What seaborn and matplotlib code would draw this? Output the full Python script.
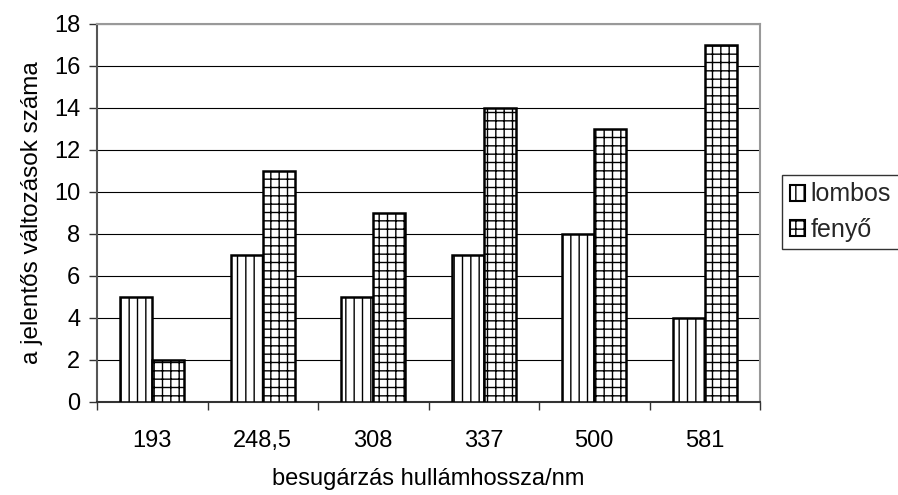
import matplotlib
matplotlib.use("Agg")
import matplotlib.pyplot as plt
import seaborn as sns
import pandas as pd
from matplotlib.patches import Patch

categories = ["193", "248,5", "308", "337", "500", "581"]
lombos = [5, 7, 5, 7, 8, 4]
fenyo = [2, 11, 9, 14, 13, 17]
series_names = ["lombos", "fenyő"]
yticks = [0, 2, 4, 6, 8, 10, 12, 14, 16, 18]

sns.set_theme(style="white")
plt.rcParams["font.family"] = ["Liberation Sans", "DejaVu Sans"]
plt.rcParams["hatch.color"] = "black"
plt.rcParams["hatch.linewidth"] = 1.0

df = pd.DataFrame({
    "cat": categories * 2,
    "val": lombos + fenyo,
    "series": [series_names[0]] * len(categories) + [series_names[1]] * len(categories),
})

fig = plt.figure(figsize=(8.98, 4.95), dpi=100)
ax = fig.add_axes([97 / 898, 1 - 402 / 495, (760 - 97) / 898, (402 - 24) / 495])

sns.barplot(data=df, x="cat", y="val", hue="series", order=categories,
            hue_order=series_names, palette=["white", "white"],
            edgecolor="black", linewidth=1.8, width=0.58, saturation=1,
            legend=False, ax=ax, zorder=3)

hatches = ["||", "++"]
for cont, h in zip(ax.containers, hatches):
    for bar in cont:
        bar.set_hatch(h)
        bar.set_zorder(3)

ax.set_ylim(0, 18)
ax.set_xlim(-0.5, len(categories) - 0.5)
ax.set_yticks(yticks)
ax.yaxis.grid(True, color="black", linewidth=0.8, zorder=0)
ax.set_axisbelow(True)

for side in ["top", "right"]:
    ax.spines[side].set_color("#999999")
    ax.spines[side].set_linewidth(1.5)
ax.spines["left"].set_color("#555555")
ax.spines["left"].set_linewidth(1.5)
ax.spines["bottom"].set_color("#333333")
ax.spines["bottom"].set_linewidth(1.5)

ax.tick_params(axis="y", direction="out", length=6, width=1, color="#333333",
               labelsize=17, pad=6, left=True)
ax.set_xticks(range(len(categories)))
ax.set_xticklabels(categories)
ax.tick_params(axis="x", which="major", length=0, labelsize=17, pad=20)
ax.set_xticks([i - 0.5 for i in range(len(categories) + 1)], minor=True)
ax.tick_params(axis="x", which="minor", direction="out", length=6, width=1,
               color="#333333", bottom=True)

ax.set_xlabel("besugárzás hullámhossza/nm", fontsize=17, labelpad=12, color="black")
ax.set_ylabel("a jelentős változások száma", fontsize=17.5, labelpad=8, color="black")
for lab in ax.get_xticklabels() + ax.get_yticklabels():
    lab.set_color("black")

handles = [Patch(facecolor="white", edgecolor="black", hatch="||", linewidth=1.5),
           Patch(facecolor="white", edgecolor="black", hatch="++", linewidth=1.5)]
leg = fig.legend(handles, series_names, loc="center left",
                 bbox_to_anchor=(782 / 898, 1 - 212 / 495), fontsize=18,
                 frameon=True, fancybox=False, edgecolor="black",
                 handlelength=0.6, handleheight=0.6, handletextpad=0.25,
                 borderpad=0.3, labelspacing=0.45, borderaxespad=0)
leg.get_frame().set_linewidth(1.0)

fig.savefig("out.png", dpi=100)
